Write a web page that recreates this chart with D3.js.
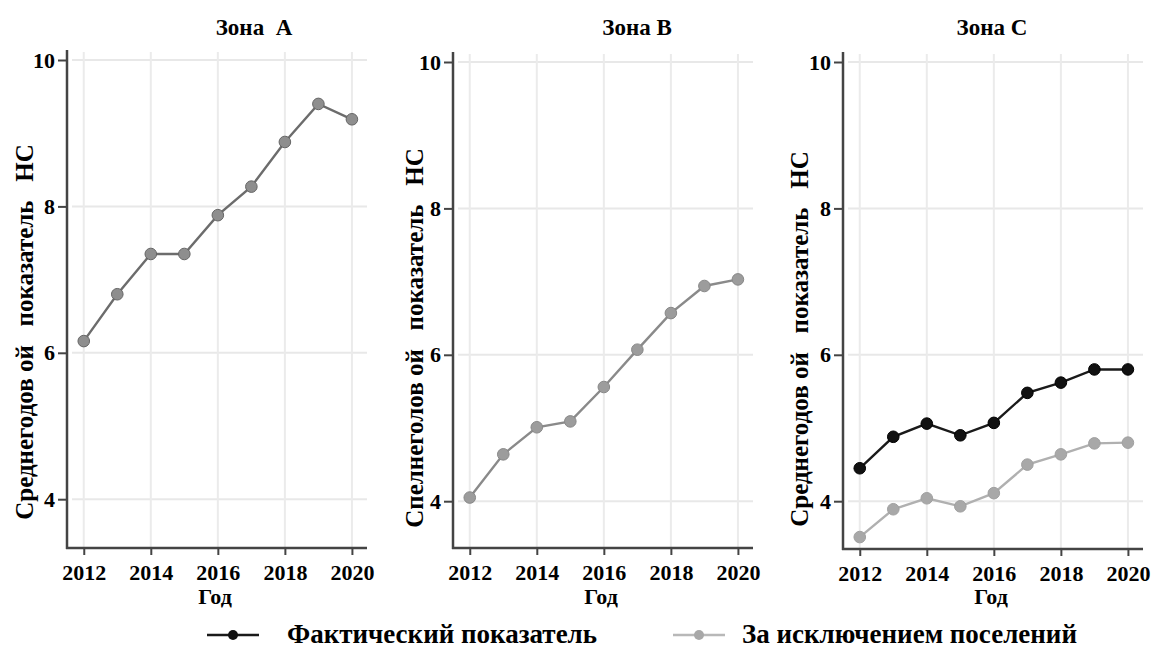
<!DOCTYPE html>
<html><head><meta charset="utf-8">
<script src="https://cdn.jsdelivr.net/npm/d3@7"></script>
<style>
body{margin:0;background:#fff;}
text{font-family:"Liberation Serif","Times New Roman",serif;font-weight:bold;white-space:pre;}
</style></head>
<body>
<svg id="c" width="1157" height="648"></svg>
<script>
const years = [2012,2013,2014,2015,2016,2017,2018,2019,2020];
const xTicks = [2012,2014,2016,2018,2020];
const yTicks = [4,6,8,10];
const zoneA = [6.16,6.80,7.35,7.35,7.88,8.27,8.88,9.40,9.19];
const zoneB = [4.05,4.64,5.01,5.09,5.56,6.07,6.57,6.94,7.03];
const zoneCActual = [4.45,4.88,5.06,4.90,5.07,5.48,5.62,5.80,5.80];
const zoneCExcl = [3.51,3.89,4.04,3.93,4.11,4.50,4.64,4.79,4.80];
const titles = ["Зона  A","Зона B","Зона C"];
const yLabels = ["Среднегодов ой   показатель   НС","Спелнеголов ой   показатель   НС","Среднегодов ой   показатель   НС"];
const xLabel = "Год";
const legendLabels = ["Фактический показатель","За исключением поселений"];

const svg = d3.select("#c");
const panels = [
  {left:67, right:367, top:50, bottom:548, y10:60, labelX:33, labelY:332, titleX:254,
   series:[{v:zoneA, line:"#6c6c6c", fill:"#8e8e8e", stroke:"#666"}]},
  {left:453, right:753, top:52, bottom:548, y10:62, labelX:423, labelY:338, titleX:637,
   series:[{v:zoneB, line:"#8a8a8a", fill:"#9c9c9c", stroke:"#888"}]},
  {left:843, right:1143, top:52, bottom:549, y10:62, labelX:808, labelY:339, titleX:992,
   series:[{v:zoneCActual, line:"#1a1a1a", fill:"#111", stroke:"#000"},
           {v:zoneCExcl, line:"#b0b0b0", fill:"#a8a8a8", stroke:"#a0a0a0"}]}
];

panels.forEach((p,i)=>{
  const g = svg.append("g");
  const x = d3.scaleLinear().domain([2011.5,2020.45]).range([p.left,p.right]);
  const unit = 73.2;
  const y = d3.scaleLinear().domain([4,10]).range([p.y10+6*unit,p.y10]);
  g.selectAll(".hg").data(yTicks).enter().append("line")
    .attr("x1",p.left+5).attr("x2",p.right)
    .attr("y1",d=>y(d)).attr("y2",d=>y(d))
    .attr("stroke","#e8e8e8").attr("stroke-width",2);
  g.selectAll(".vg").data(xTicks).enter().append("line")
    .attr("x1",d=>x(d)).attr("x2",d=>x(d))
    .attr("y1",p.top+2).attr("y2",p.bottom)
    .attr("stroke","#ebebeb").attr("stroke-width",2);
  const ya = g.append("g").attr("transform",`translate(${p.left},0)`)
    .call(d3.axisLeft(y).tickValues(yTicks).tickSize(9).tickPadding(3).tickFormat(d3.format("d")));
  ya.select(".domain").remove();
  ya.append("line").attr("x1",0).attr("x2",0).attr("y1",p.top).attr("y2",p.bottom+1)
    .attr("stroke","#444").attr("stroke-width",2.5);
  ya.selectAll(".tick line").attr("stroke","#444").attr("stroke-width",2);
  ya.selectAll(".tick text").attr("fill","#000").style("font-size","22px")
    .style("font-family","'Liberation Serif',serif").style("font-weight","bold");
  const xa = g.append("g").attr("transform",`translate(0,${p.bottom})`)
    .call(d3.axisBottom(x).tickValues(xTicks).tickSize(7).tickFormat(d3.format("d")));
  xa.select(".domain").remove();
  xa.append("line").attr("x1",p.left-1).attr("x2",p.right).attr("y1",0).attr("y2",0)
    .attr("stroke","#444").attr("stroke-width",2.5);
  xa.selectAll(".tick line").attr("stroke","#444").attr("stroke-width",2);
  xa.selectAll(".tick text").attr("fill","#000").attr("dy",null).attr("y",32)
    .style("font-size","22px")
    .style("font-family","'Liberation Serif',serif").style("font-weight","bold");
  const line = d3.line().x((d,j)=>x(years[j])).y(d=>y(d));
  p.series.forEach(s=>{
    g.append("path").datum(s.v).attr("d",line).attr("fill","none")
      .attr("stroke",s.line).attr("stroke-width",2.4);
    g.selectAll(null).data(s.v).enter().append("circle")
      .attr("cx",(d,j)=>x(years[j])).attr("cy",d=>y(d)).attr("r",5.8)
      .attr("fill",s.fill).attr("stroke",s.stroke).attr("stroke-width",1);
  });
  g.append("text").attr("x",p.titleX).attr("y",35).attr("text-anchor","middle")
    .style("font-size","23px").text(titles[i]);
  g.append("text").attr("x",(p.left+p.right)/2-2).attr("y",604).attr("text-anchor","middle")
    .style("font-size","22px").text(xLabel);
  g.append("text").attr("transform",`translate(${p.labelX},${p.labelY}) rotate(-90)`)
    .attr("text-anchor","middle").style("font-size","25px").text(yLabels[i]);
});

const leg = [
  {x1:207,x2:259,cx:233,tx:287,line:"#1a1a1a",fill:"#111"},
  {x1:673,x2:725,cx:699,tx:742,line:"#b8b8b8",fill:"#a8a8a8"}
];
leg.forEach((l,i)=>{
  svg.append("line").attr("x1",l.x1).attr("x2",l.x2).attr("y1",635).attr("y2",635)
    .attr("stroke",l.line).attr("stroke-width",2.4);
  svg.append("circle").attr("cx",l.cx).attr("cy",635).attr("r",5).attr("fill",l.fill);
  svg.append("text").attr("x",l.tx).attr("y",643).style("font-size","27px")
    .text(legendLabels[i]);
});
</script>
</body></html>
